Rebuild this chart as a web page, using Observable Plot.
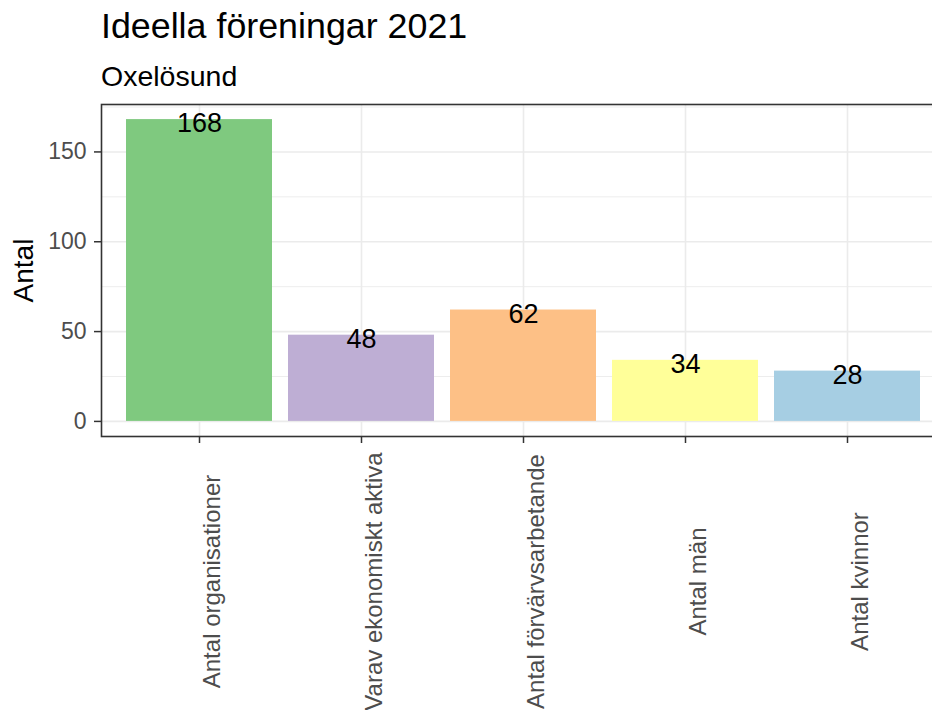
<!DOCTYPE html>
<html><head><meta charset="utf-8">
<script src="https://cdn.jsdelivr.net/npm/d3@7"></script>
<script src="https://cdn.jsdelivr.net/npm/@observablehq/plot@0.6"></script>
<style>
html,body{margin:0;padding:0;background:#fff;overflow:hidden;width:932px;height:710px;}
#header{position:relative;height:90px;font-family:"Liberation Sans",Arial,sans-serif;}
#title{position:absolute;left:101px;top:9px;font-size:35.8px;line-height:1;color:#000;white-space:nowrap;}
#subtitle{position:absolute;left:101px;top:62px;font-size:28.5px;line-height:1;color:#000;white-space:nowrap;}
#chart{width:960px;}
#chart svg{display:block;max-width:none !important;width:960px !important;height:630px !important;}
</style></head><body>
<div id="header"><div id="title">Ideella föreningar 2021</div><div id="subtitle">Oxelösund</div></div>
<div id="chart"></div>
<script>
const categories = ["Antal organisationer", "Varav ekonomiskt aktiva", "Antal förvärvsarbetande", "Antal män", "Antal kvinnor"];
const values = [168, 48, 62, 34, 28];
const colors = ["#7FC97F", "#BEAED4", "#FDC086", "#FFFF99", "#A6CEE3"];
const yTicks = [0, 50, 100, 150];
const yMinorTicks = [25, 75, 125, 175];
const yLabel = "Antal";

const data = categories.map((c, i) => ({category: c, value: values[i]}));

const plot = Plot.plot({
  width: 960,
  height: 630,
  marginLeft: 101,
  marginRight: 15,
  marginTop: 14,
  marginBottom: 284,
  style: {fontFamily: '"Liberation Sans", Arial, sans-serif', background: "white", overflow: "visible", maxWidth: "none"},
  x: {type: "band", domain: categories, paddingInner: 0.1, paddingOuter: 0.15, axis: null},
  y: {domain: [-8.4, 176.4], axis: null},
  color: {type: "ordinal", domain: categories, range: colors},
  marks: [
    Plot.ruleY(yMinorTicks, {y: d => d, stroke: "#EBEBEB", strokeWidth: 0.9}),
    Plot.ruleY(yTicks, {y: d => d, stroke: "#EBEBEB", strokeWidth: 1.6}),
    Plot.ruleX(categories, {x: d => d, stroke: "#EBEBEB", strokeWidth: 1.6}),
    Plot.barY(data, {x: "category", y: "value", fill: "category"}),
    Plot.text(data, {x: "category", y: "value", text: d => String(d.value), fontSize: 27, fill: "#000", dy: 4}),
    Plot.axisY(yTicks, {tickSize: 7, tickPadding: 8, fontSize: 23, stroke: "#333", fill: "#4D4D4D", strokeWidth: 1.5, label: null}),
    Plot.axisX(categories, {tickSize: 7, stroke: "#333", strokeWidth: 1.5, tickFormat: () => "", label: null}),
    Plot.text(categories, {x: d => d, text: d => d, frameAnchor: "bottom", rotate: -90, textAnchor: "middle", lineAnchor: "top", dy: 145, dx: 3, fontSize: 24, fill: "#4D4D4D"}),
    Plot.text([yLabel], {text: d => d, frameAnchor: "left", rotate: -90, textAnchor: "middle", lineAnchor: "middle", dx: -77, fontSize: 28, fill: "#000"}),
    Plot.frame({stroke: "#333", strokeWidth: 1.6})
  ]
});
document.getElementById("chart").appendChild(plot);
</script>
</body></html>
